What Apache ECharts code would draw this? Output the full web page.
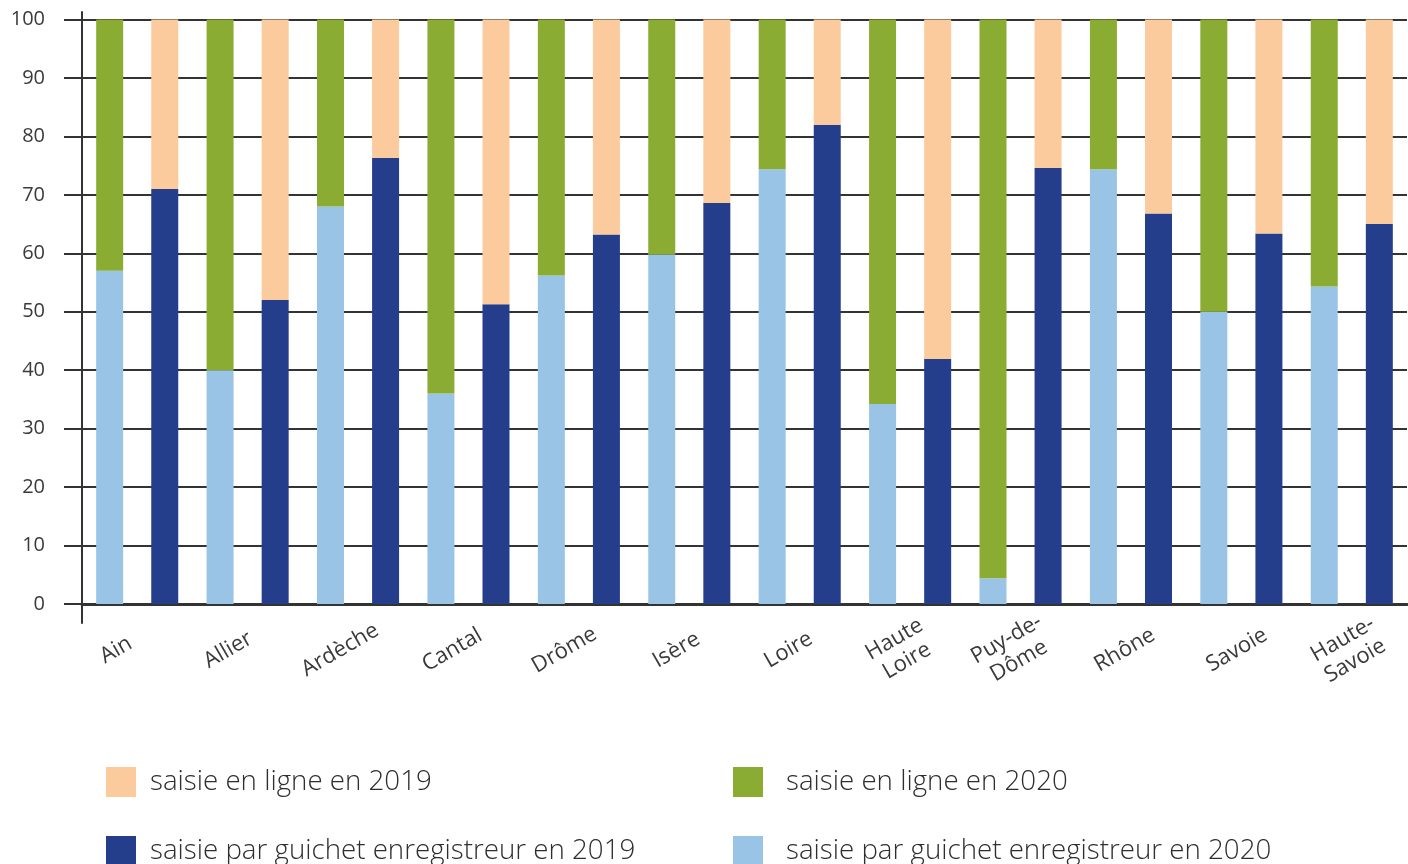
<!DOCTYPE html>
<html lang="fr">
<head>
<meta charset="utf-8">
<title>Saisie en ligne / par guichet enregistreur, 2019-2020</title>
<script src="https://cdn.jsdelivr.net/npm/echarts@6/dist/echarts.min.js"></script>
<style>
  html, body { margin: 0; padding: 0; background: #ffffff; }
  #chart { width: 1408px; height: 864px; }
</style>
</head>
<body>
<div id="chart"></div>
<script>
// Départements (libellés de l'axe, avec retours à la ligne)
const departements = ['Ain', 'Allier', 'Ardèche', 'Cantal', 'Drôme', 'Isère', 'Loire',
  'Haute\nLoire', 'Puy-de-\nDôme', 'Rhône', 'Savoie', 'Haute-\nSavoie'];

// Parts en % — 2020
const guichet2020 = [57, 40, 68, 36, 56.2, 59.8, 74.4, 34.2, 4.4, 74.4, 50, 54.3];
const enLigne2020 = [43, 60, 32, 64, 43.8, 40.2, 25.6, 65.8, 95.6, 25.6, 50, 45.7];

// Parts en % — 2019
const guichet2019 = [71, 52, 76.3, 51.3, 63.2, 68.6, 82, 41.9, 74.6, 66.8, 63.4, 65];
const enLigne2019 = [29, 48, 23.7, 48.7, 36.8, 31.4, 18, 58.1, 25.4, 33.2, 36.6, 35];

// Graduations de l'axe vertical
const yMin = 0, yMax = 100, yStep = 10;

const NOMS = {
  l19: 'saisie en ligne en 2019',
  l20: 'saisie en ligne en 2020',
  g19: 'saisie par guichet enregistreur en 2019',
  g20: 'saisie par guichet enregistreur en 2020'
};
const COULEURS = {
  l19: '#FCCB9D',
  l20: '#8AAC32',
  g19: '#243E8C',
  g20: '#99C4E6'
};

const LINE = '#333333';
const TEXT = '#3a3a3a';
const AXIS_FONT = '"Open Sans", "Noto Sans", sans-serif';
const LEGEND_FONT = '"Open Sans", "Noto Sans", sans-serif';

function barSerie(key, stack, data) {
  return {
    name: NOMS[key],
    type: 'bar',
    stack: stack,
    xAxisIndex: 0,
    yAxisIndex: 0,
    data: data,
    barWidth: 27,
    barGap: '104%',
    itemStyle: { color: COULEURS[key] },
    emphasis: { disabled: true }
  };
}

function legende(left, noms) {
  return {
    left: left,
    top: 767,
    height: 120,
    orient: 'vertical',
    padding: 0,
    itemWidth: 30,
    itemHeight: 30,
    itemGap: 39,
    icon: 'rect',
    selectedMode: false,
    data: noms,
    textStyle: {
      fontSize: 27.7,
      fontWeight: 300,
      fontFamily: LEGEND_FONT,
      color: '#2e2e2e',
      padding: [0, 0, 0, left < 400 ? 9 : 18]
    }
  };
}

const chart = echarts.init(document.getElementById('chart'), null, { renderer: 'canvas' });

chart.setOption({
  animation: false,
  backgroundColor: '#ffffff',
  grid: [
    // zone des barres
    { left: 82, right: 1, top: 19.5, bottom: 260 },
    // zone servant aux libellés inclinés et au trait vertical prolongé
    { left: 60, right: 3, top: 12, bottom: 241 }
  ],
  xAxis: [
    {
      type: 'category',
      gridIndex: 0,
      data: departements,
      axisLine: { show: true, lineStyle: { color: LINE, width: 3 } },
      axisTick: { show: false },
      axisLabel: { show: false },
      splitLine: { show: false }
    },
    {
      type: 'category',
      gridIndex: 1,
      position: 'bottom',
      data: departements,
      axisLine: { show: false },
      axisTick: { show: false },
      splitLine: { show: false },
      axisLabel: {
        show: true,
        interval: 0,
        rotate: 30,
        align: 'center',
        verticalAlign: 'middle',
        margin: 27,
        fontSize: 22,
        lineHeight: 25,
        fontFamily: AXIS_FONT,
        color: TEXT
      }
    }
  ],
  yAxis: [
    {
      type: 'value',
      gridIndex: 0,
      min: yMin,
      max: yMax,
      interval: yStep,
      axisLine: { show: false },
      axisTick: { show: true, length: 18, lineStyle: { color: LINE, width: 2 } },
      splitLine: { show: true, lineStyle: { color: LINE, width: 2 } },
      axisLabel: {
        show: true,
        align: 'right',
        margin: 37,
        fontSize: 20,
        fontFamily: AXIS_FONT,
        color: TEXT
      }
    },
    {
      type: 'value',
      gridIndex: 1,
      min: 0,
      max: 1,
      offset: -22,
      axisLine: { show: true, lineStyle: { color: LINE, width: 2 } },
      axisTick: { show: false },
      axisLabel: { show: false },
      splitLine: { show: false }
    }
  ],
  legend: [
    legende(106, [NOMS.l19, NOMS.g19]),
    legende(733, [NOMS.l20, NOMS.g20])
  ],
  series: [
    barSerie('g20', 'a2020', guichet2020),
    barSerie('l20', 'a2020', enLigne2020),
    barSerie('g19', 'a2019', guichet2019),
    barSerie('l19', 'a2019', enLigne2019)
  ]
});
</script>
</body>
</html>
